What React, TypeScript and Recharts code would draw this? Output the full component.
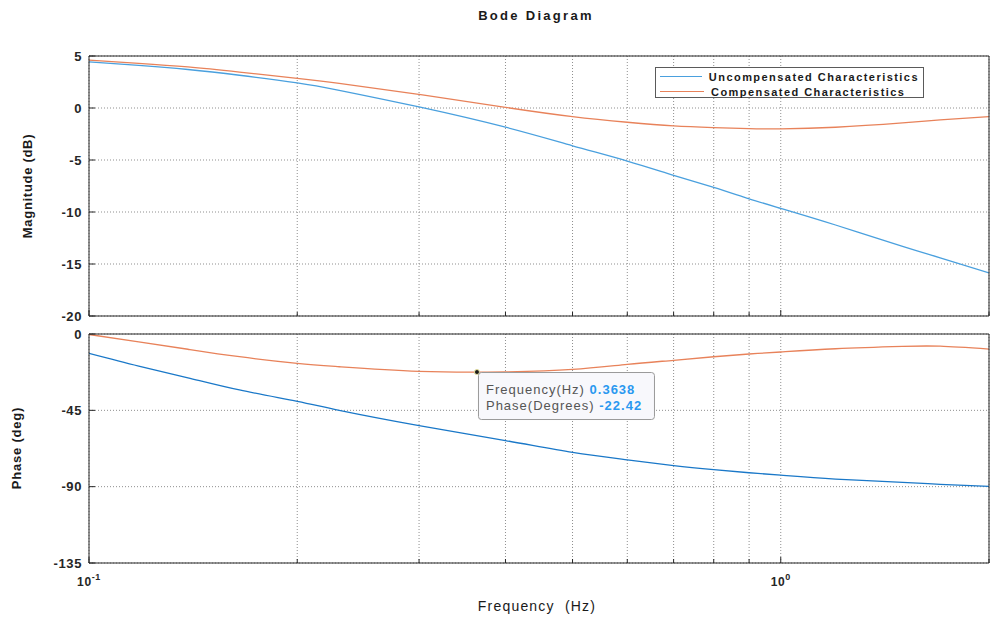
import React from "react";
import { CartesianGrid, Legend, Line, LineChart, ReferenceDot, XAxis, YAxis } from "recharts";

const freqs = [0.1, 0.118, 0.139, 0.165, 0.2, 0.23, 0.3, 0.4, 0.5, 0.6, 0.7, 0.8, 0.9, 1.0, 1.2, 1.5, 1.7, 2.0];
// magnitude (dB)
const magUncomp = [4.43, 4.1, 3.7, 3.15, 2.42, 1.7, 0.1, -1.85, -3.63, -5.1, -6.47, -7.64, -8.73, -9.65, -11.25, -13.3, -14.4, -15.86];
const magComp = [4.6, 4.3, 3.95, 3.45, 2.84, 2.36, 1.31, 0.06, -0.83, -1.37, -1.72, -1.88, -1.98, -2.0, -1.85, -1.43, -1.15, -0.83];
// phase (deg)
const phaseUncomp = [-11.4, -18.9, -25.8, -33.0, -39.7, -45.0, -54.0, -62.8, -69.8, -74.2, -77.6, -80.0, -81.8, -83.2, -85.5, -87.5, -88.6, -89.8];
const phaseComp = [-0.3, -4.6, -9.0, -13.4, -17.3, -19.3, -22.0, -22.3, -20.9, -17.9, -15.5, -13.4, -11.8, -10.6, -8.7, -7.3, -7.2, -8.9];

const seriesNames = ["Uncompensated Characteristics", "Compensated Characteristics"];

const xTicks = [0.1, 0.2, 0.3, 0.4, 0.5, 0.6, 0.7, 0.8, 0.9, 1, 2];
const majorTicks = [0.1, 1];
const magTicks = [-20, -15, -10, -5, 0, 5];
const phaseTicks = [-135, -90, -45, 0];

const tipFreq = 0.3638;
const tipPhase = -22.42;

const data = freqs.map((f, i) => ({
  f,
  magU: magUncomp[i],
  magC: magComp[i],
  phU: phaseUncomp[i],
  phC: phaseComp[i],
}));

const AXIS = "#262626";
const GRID = "#8f8f8f";
const FONT = "'Liberation Sans', Arial, Helvetica, sans-serif";

type TickProps = { x?: number; y?: number; payload?: { value: number } };

function BottomTick({ x = 0, y = 0, payload, showLabel }: TickProps & { showLabel?: boolean }) {
  const v = payload?.value ?? 0;
  const major = majorTicks.includes(v);
  return (
    <g>
      <line x1={x} x2={x} y1={y} y2={y - (major ? 6 : 4)} stroke={AXIS} />
      {showLabel && major && (
        <text x={x} y={y + 23} textAnchor="middle" fontSize={12} fontWeight="bold" fill={AXIS} fontFamily={FONT} letterSpacing={0.6}>
          10
          <tspan dy={-6} fontSize={9}>
            {String(Math.round(Math.log10(v)))}
          </tspan>
        </text>
      )}
    </g>
  );
}

function TopTick({ x = 0, y = 0, payload }: TickProps) {
  const v = payload?.value ?? 0;
  const major = majorTicks.includes(v);
  return <line x1={x} x2={x} y1={y} y2={y + (major ? 6 : 4)} stroke={AXIS} />;
}

function LeftTick({ x = 0, y = 0, payload }: TickProps) {
  return (
    <g>
      <line x1={x} x2={x + 6} y1={y} y2={y} stroke={AXIS} />
      <text x={x - 7} y={y} dy="0.36em" textAnchor="end" fontSize={13} fontWeight="bold" fill={AXIS} fontFamily={FONT} letterSpacing={0.6}>
        {payload?.value}
      </text>
    </g>
  );
}

function RightTick({ x = 0, y = 0 }: TickProps) {
  return <line x1={x} x2={x - 6} y1={y} y2={y} stroke={AXIS} />;
}

function LegendBox({ payload }: { payload?: any[] }) {
  const items = [...(payload ?? [])].sort((a, b) => seriesNames.indexOf(a.value) - seriesNames.indexOf(b.value));
  return (
    <div
      style={{
        border: "1px solid #5a5a5a",
        background: "#fff",
        padding: "1px 4px",
        width: 269,
        height: 31,
        boxSizing: "border-box",
      }}
    >
      {items.map((p) => (
        <div key={p.value} style={{ display: "flex", alignItems: "center", height: 15 }}>
          <span style={{ width: 44, height: 0, borderTop: `1.5px solid ${p.color}`, marginRight: 7 }} />
          <span
            style={{ fontFamily: FONT, fontSize: 11, fontWeight: "bold", letterSpacing: 1.45, color: "#1a1a1a", whiteSpace: "nowrap" }}
          >
            {p.value}
          </span>
        </div>
      ))}
    </div>
  );
}

function renderTip(props: any) {
  const vb = props.viewBox ?? { x: 0, y: 0, width: 0, height: 0 };
  const cx = vb.x + vb.width / 2;
  const cy = vb.y + vb.height / 2;
  const tx = cx + 9;
  return (
    <g>
      <rect x={cx + 1.5} y={cy + 0.5} width={176} height={47} rx={3} fill="#f8f8fc" stroke="#9a9a9a" />
      <text x={tx} y={cy + 22} fontSize={13} fontFamily={FONT} fill="#555" letterSpacing={1}>
        Frequency(Hz)
        <tspan fill="#2a98f0" fontWeight="bold"> {tipFreq.toFixed(4)}</tspan>
      </text>
      <text x={tx} y={cy + 38} fontSize={13} fontFamily={FONT} fill="#555" letterSpacing={1}>
        Phase(Degrees)
        <tspan fill="#2a98f0" fontWeight="bold"> {tipPhase.toFixed(2)}</tspan>
      </text>
    </g>
  );
}

const label: React.CSSProperties = {
  position: "absolute",
  fontFamily: FONT,
  color: "#1a1a1a",
  whiteSpace: "pre",
  textAlign: "center",
};

export default function App() {
  return (
    <div style={{ position: "absolute", left: 0, top: 0, width: 992, height: 621, background: "#fff", overflow: "hidden" }}>
      <div style={{ ...label, left: 436, top: 8, width: 200, fontSize: 13, fontWeight: "bold", letterSpacing: 2.3, lineHeight: "16px" }}>
        Bode Diagram
      </div>

      <div style={{ position: "absolute", left: 0, top: 0 }}>
        <LineChart width={992} height={326} data={data} margin={{ top: 55, right: 2, bottom: 9, left: 49 }}>
          <CartesianGrid stroke={GRID} strokeDasharray="1 2" />
          <XAxis
            dataKey="f"
            type="number"
            scale="log"
            domain={[0.1, 2]}
            allowDataOverflow
            ticks={xTicks}
            interval={0}
            height={1}
            tickSize={0}
            tickMargin={0}
            stroke={AXIS}
            tick={(p: any) => <BottomTick {...p} />}
          />
          <XAxis
            xAxisId="top"
            orientation="top"
            type="number"
            scale="log"
            domain={[0.1, 2]}
            allowDataOverflow
            ticks={xTicks}
            interval={0}
            height={1}
            tickSize={0}
            tickMargin={0}
            stroke={AXIS}
            tick={(p: any) => <TopTick {...p} />}
          />
          <YAxis
            type="number"
            domain={[-20, 5]}
            ticks={magTicks}
            interval={0}
            width={40}
            tickSize={0}
            tickMargin={0}
            stroke={AXIS}
            tick={(p: any) => <LeftTick {...p} />}
          />
          <YAxis
            yAxisId="right"
            orientation="right"
            type="number"
            domain={[-20, 5]}
            ticks={magTicks}
            interval={0}
            width={1}
            tickSize={0}
            tickMargin={0}
            stroke={AXIS}
            tick={(p: any) => <RightTick {...p} />}
          />
          <Line
            type="natural"
            dataKey="magU"
            name={seriesNames[0]}
            stroke="#4aa0de"
            strokeWidth={1.3}
            dot={false}
            isAnimationActive={false}
          />
          <Line
            type="natural"
            dataKey="magC"
            name={seriesNames[1]}
            stroke="#e8825a"
            strokeWidth={1.3}
            dot={false}
            isAnimationActive={false}
          />
          <Legend
            layout="vertical"
            align="center"
            verticalAlign="middle"
            content={(p: any) => <LegendBox payload={p.payload} />}
            wrapperStyle={{ left: 655, top: 67, width: 269, height: 31 }}
          />
        </LineChart>
      </div>

      <div style={{ position: "absolute", left: 0, top: 326 }}>
        <LineChart width={992} height={295} data={data} margin={{ top: 7, right: 2, bottom: 57, left: 49 }}>
          <CartesianGrid stroke={GRID} strokeDasharray="1 2" />
          <XAxis
            dataKey="f"
            type="number"
            scale="log"
            domain={[0.1, 2]}
            allowDataOverflow
            ticks={xTicks}
            interval={0}
            height={1}
            tickSize={0}
            tickMargin={0}
            stroke={AXIS}
            tick={(p: any) => <BottomTick {...p} showLabel />}
          />
          <XAxis
            xAxisId="top"
            orientation="top"
            type="number"
            scale="log"
            domain={[0.1, 2]}
            allowDataOverflow
            ticks={xTicks}
            interval={0}
            height={1}
            tickSize={0}
            tickMargin={0}
            stroke={AXIS}
            tick={(p: any) => <TopTick {...p} />}
          />
          <YAxis
            type="number"
            domain={[-135, 0]}
            ticks={phaseTicks}
            interval={0}
            width={40}
            tickSize={0}
            tickMargin={0}
            stroke={AXIS}
            tick={(p: any) => <LeftTick {...p} />}
          />
          <YAxis
            yAxisId="right"
            orientation="right"
            type="number"
            domain={[-135, 0]}
            ticks={phaseTicks}
            interval={0}
            width={1}
            tickSize={0}
            tickMargin={0}
            stroke={AXIS}
            tick={(p: any) => <RightTick {...p} />}
          />
          <Line type="natural" dataKey="phU" stroke="#1a78c8" strokeWidth={1.3} dot={false} isAnimationActive={false} />
          <Line type="natural" dataKey="phC" stroke="#e8825a" strokeWidth={1.3} dot={false} isAnimationActive={false} />
          <ReferenceDot x={tipFreq} y={tipPhase} r={2.5} fill="#1a1a1a" stroke="#e8e4a0" strokeWidth={1} label={renderTip} />
        </LineChart>
      </div>

      <div
        style={{
          ...label,
          left: 28 - 100,
          top: 178,
          width: 200,
          fontSize: 13,
          fontWeight: "bold",
          letterSpacing: 0.7,
          lineHeight: "16px",
          transform: "rotate(-90deg)",
        }}
      >
        Magnitude (dB)
      </div>
      <div
        style={{
          ...label,
          left: 17 - 100,
          top: 440,
          width: 200,
          fontSize: 13,
          fontWeight: "bold",
          letterSpacing: 0.8,
          lineHeight: "16px",
          transform: "rotate(-90deg)",
        }}
      >
        Phase (deg)
      </div>
      <div style={{ ...label, left: 437, top: 597, width: 200, fontSize: 14, letterSpacing: 1.2, lineHeight: "18px" }}>
        Frequency  (Hz)
      </div>
    </div>
  );
}
